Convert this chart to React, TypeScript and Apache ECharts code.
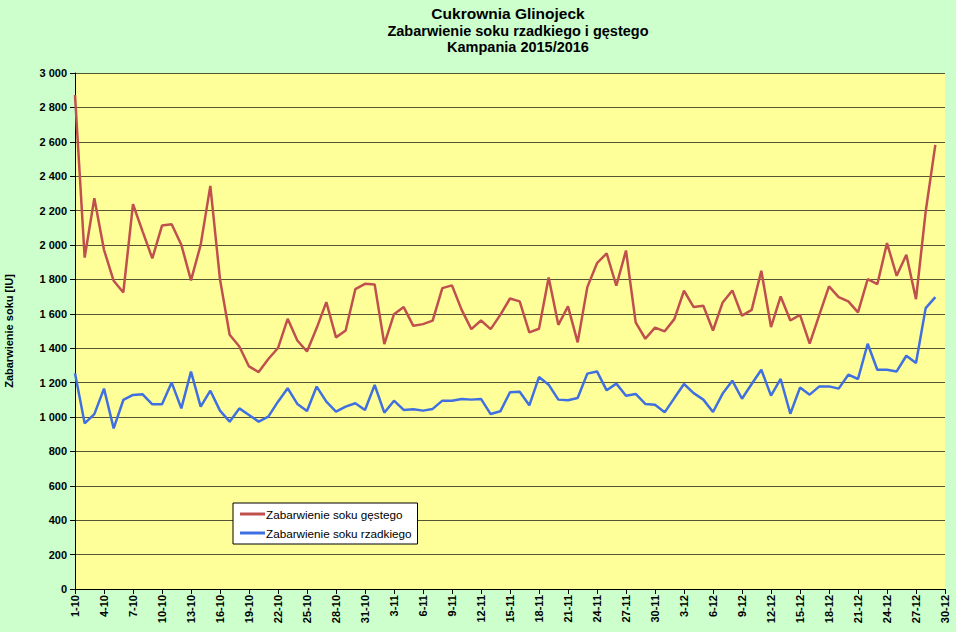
import React, { useEffect, useRef } from "react";
import * as echarts from "echarts";

const categories: string[] = [
  "1-10","2-10","3-10","4-10","5-10","6-10","7-10","8-10","9-10","10-10",
  "11-10","12-10","13-10","14-10","15-10","16-10","17-10","18-10","19-10","20-10",
  "21-10","22-10","23-10","24-10","25-10","26-10","27-10","28-10","29-10","30-10",
  "31-10","1-11","2-11","3-11","4-11","5-11","6-11","7-11","8-11","9-11",
  "10-11","11-11","12-11","13-11","14-11","15-11","16-11","17-11","18-11","19-11",
  "20-11","21-11","22-11","23-11","24-11","25-11","26-11","27-11","28-11","29-11",
  "30-11","1-12","2-12","3-12","4-12","5-12","6-12","7-12","8-12","9-12",
  "10-12","11-12","12-12","13-12","14-12","15-12","16-12","17-12","18-12","19-12",
  "20-12","21-12","22-12","23-12","24-12","25-12","26-12","27-12","28-12","29-12",
  "30-12",
];

const gestego: number[] = [
  2872, 1927, 2272, 1972, 1792, 1724, 2237, 2078, 1922, 2113,
  2121, 2001, 1794, 2001, 2344, 1800, 1478, 1410, 1294, 1261,
  1337, 1401, 1571, 1445, 1381, 1517, 1668, 1463, 1503, 1743,
  1774, 1771, 1424, 1598, 1639, 1530, 1540, 1560, 1749, 1765,
  1623, 1511, 1561, 1511, 1594, 1689, 1672, 1492, 1513, 1811,
  1536, 1643, 1434, 1755, 1894, 1951, 1763, 1968, 1550, 1455,
  1520, 1498, 1569, 1734, 1639, 1647, 1503, 1666, 1736, 1589,
  1623, 1850, 1523, 1701, 1561, 1594, 1426, 1594, 1759, 1697,
  1672, 1608, 1801, 1772, 2011, 1821, 1943, 1685, 2194, 2582,
];

const rzadkiego: number[] = [
  1254, 963, 1017, 1165, 934, 1099, 1128, 1132, 1074, 1074,
  1200, 1050, 1264, 1060, 1153, 1037, 973, 1050, 1012, 973,
  1002, 1089, 1167, 1076, 1035, 1177, 1089, 1031, 1060, 1080,
  1041, 1186, 1025, 1095, 1041, 1045, 1037, 1047, 1095, 1095,
  1105, 1101, 1105, 1017, 1033, 1144, 1147, 1068, 1232, 1188,
  1101, 1097, 1110, 1252, 1265, 1155, 1194, 1124, 1134, 1076,
  1071, 1027, 1110, 1192, 1139, 1101, 1029, 1136, 1211, 1106,
  1192, 1275, 1124, 1221, 1019, 1171, 1130, 1178, 1178, 1165,
  1246, 1221, 1426, 1275, 1275, 1265, 1356, 1314, 1633, 1697,
];

const FONT = "Arial, 'Liberation Sans', sans-serif";

export default function App() {
  const ref = useRef<HTMLDivElement>(null);
  useEffect(() => {
    if (!ref.current) return;
    const chart = echarts.init(ref.current, undefined, { renderer: "svg" });
    chart.setOption({
      animation: false,
      backgroundColor: "#CCFFCC",
      textStyle: { fontFamily: FONT },
      graphic: [
        {
          type: "text",
          style: {
            x: 508, y: 5, text: "Cukrownia Glinojeck", align: "center",
            font: `bold 15.5px ${FONT}`, fill: "#000",
          },
        },
        {
          type: "text",
          style: {
            x: 518, y: 23, text: "Zabarwienie soku rzadkiego i gęstego", align: "center",
            font: `bold 14.5px ${FONT}`, fill: "#000",
          },
        },
        {
          type: "text",
          style: {
            x: 518, y: 39, text: "Kampania 2015/2016", align: "center",
            font: `bold 14.5px ${FONT}`, fill: "#000",
          },
        },
      ],
      grid: {
        left: 75, top: 73, right: 11, bottom: 43, show: true,
        backgroundColor: "#FFFF99", borderWidth: 0,
        outerBoundsMode: "none", containLabel: false,
      },
      legend: {
        left: 233,
        top: 503,
        orient: "vertical",
        backgroundColor: "#fff",
        borderColor: "#000",
        borderWidth: 1,
        borderRadius: 0,
        padding: [5, 6, 5, 7],
        itemGap: 7,
        itemWidth: 25,
        itemHeight: 3,
        icon: "rect",
        textStyle: { fontSize: 11.7, color: "#000", fontFamily: FONT, padding: [0, 0, 0, -4] },
        data: ["Zabarwienie soku gęstego", "Zabarwienie soku rzadkiego"],
      },
      xAxis: {
        type: "category",
        data: categories,
        boundaryGap: false,
        axisLine: { lineStyle: { color: "#000", width: 1 } },
        axisTick: { show: true, interval: 2, length: 5, lineStyle: { color: "#000" } },
        axisLabel: {
          interval: 2, rotate: 90, fontSize: 11, fontWeight: "bold", color: "#000",
          fontFamily: FONT, margin: 6,
        },
        splitLine: { show: false },
      },
      yAxis: {
        type: "value",
        min: 0,
        max: 3000,
        interval: 200,
        name: "Zabarwienie soku [IU]",
        nameLocation: "middle",
        nameGap: 61,
        nameRotate: 90,
        nameTextStyle: { fontSize: 11, fontWeight: "bold", color: "#000", fontFamily: FONT },
        axisLine: { show: true, lineStyle: { color: "#000", width: 1 } },
        axisTick: { show: true, length: 5, lineStyle: { color: "#000" } },
        axisLabel: {
          fontSize: 11, fontWeight: "bold", color: "#000", fontFamily: FONT, margin: 8,
          formatter: (v: number) => String(v).replace(/\B(?=(\d{3})+(?!\d))/g, " "),
        },
        splitLine: { show: true, lineStyle: { color: "#555533", width: 1 } },
      },
      series: [
        {
          name: "Zabarwienie soku gęstego",
          type: "line",
          data: gestego,
          symbol: "none",
          lineStyle: { color: "#C0504D", width: 2.5 },
          itemStyle: { color: "#C0504D" },
        },
        {
          name: "Zabarwienie soku rzadkiego",
          type: "line",
          data: rzadkiego,
          symbol: "none",
          lineStyle: { color: "#3F6FE0", width: 2.5 },
          itemStyle: { color: "#3F6FE0" },
        },
      ],
    });
    return () => chart.dispose();
  }, []);
  return <div ref={ref} style={{ width: 956, height: 632, position: "absolute", left: 0, top: 0 }} />;
}
